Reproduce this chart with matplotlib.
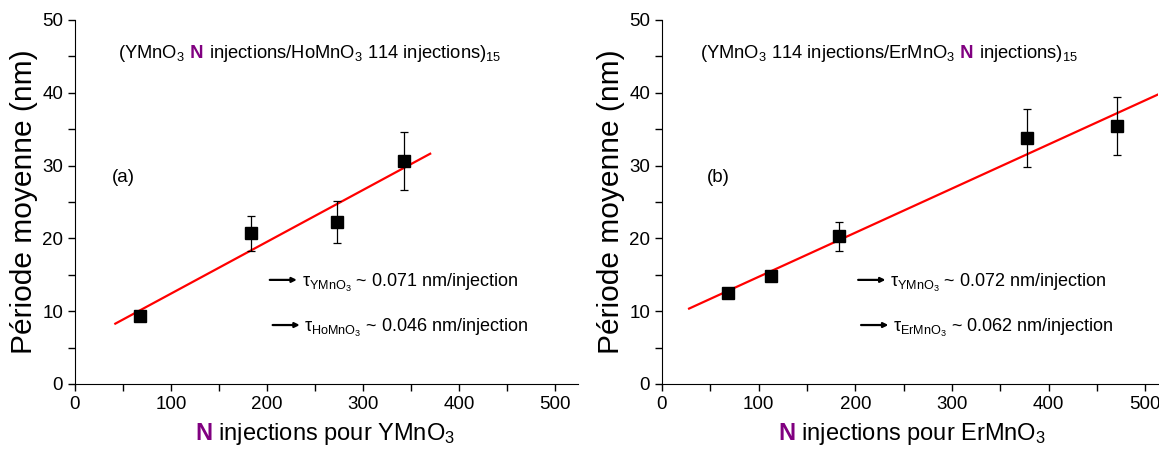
import matplotlib
matplotlib.use("Agg")
import matplotlib.pyplot as plt
import matplotlib.transforms as mtransforms
import numpy as np

plt.rcParams["font.family"] = ["Liberation Sans", "DejaVu Sans"]
plt.rcParams["mathtext.fontset"] = "custom"
plt.rcParams["mathtext.rm"] = "Liberation Sans"
plt.rcParams["mathtext.it"] = "Liberation Sans:italic"
plt.rcParams["mathtext.bf"] = "Liberation Sans:bold"
plt.rcParams["mathtext.default"] = "regular"

# panel (a): YMnO3 N injections / HoMnO3 114 injections
n_a = [68, 183, 273, 343]
period_a = [9.4, 20.7, 22.2, 30.6]
err_a = [0.6, 2.4, 2.9, 4.0]
fit_range_a = [42, 370]

# panel (b): YMnO3 114 injections / ErMnO3 N injections
n_b = [68, 113, 183, 377, 471]
period_b = [12.5, 14.8, 20.3, 33.8, 35.4]
err_b = [0.5, 0.5, 2.0, 4.0, 4.0]
fit_range_b = [28, 515]

purple = "#800080"

fig = plt.figure(figsize=(11.59, 4.55), dpi=100)
ax_a = fig.add_axes([75 / 1159, 71 / 455, 503 / 1159, 364 / 455])
ax_b = fig.add_axes([662 / 1159, 71 / 455, 496 / 1159, 364 / 455])
renderer = fig.canvas.get_renderer()


def parts_text(ax, x, y, parts, transform, size):
    # draw text pieces one after another on the same baseline
    t = None
    for s, color, weight in parts:
        t = ax.text(x, y, s, color=color, fontweight=weight, fontsize=size,
                    transform=transform, va="baseline", ha="left", clip_on=False)
        ex = t.get_window_extent(renderer)
        transform = mtransforms.offset_copy(t.get_transform(), fig=fig, x=ex.width, units="dots")
    return t


def setup(ax, xmax, xlabel_parts, xl_start):
    ax.set_xlim(0, xmax)
    ax.set_ylim(0, 50)
    ax.spines["top"].set_visible(False)
    ax.spines["right"].set_visible(False)
    ax.set_xticks(range(0, 501, 100))
    ax.set_xticks(range(50, 501, 100), minor=True)
    ax.set_yticks(range(0, 51, 10))
    ax.set_yticks(range(5, 50, 10), minor=True)
    ax.tick_params(which="both", direction="out", length=5, width=1, labelsize=13.5)
    ax.set_ylabel("Période moyenne (nm)", fontsize=21.5, labelpad=3)
    parts_text(ax, xl_start, -0.155, xlabel_parts, ax.transAxes, 17)


def panel(ax, n, period, err, fit_range):
    slope, intercept = np.polyfit(n, period, 1)
    xs = np.array(fit_range)
    ax.plot(xs, slope * xs + intercept, color="red", lw=1.6, zorder=2)
    ax.errorbar(n, period, yerr=err, fmt="s", color="black", ms=8.5,
                ecolor="black", elinewidth=0.9, capsize=3, capthick=0.9, zorder=3)


setup(ax_a, 524, [("N", purple, "bold"), (" injections pour YMnO$_3$", "black", "normal")], 0.239)
setup(ax_b, 513, [("N", purple, "bold"), (" injections pour ErMnO$_3$", "black", "normal")], 0.234)

panel(ax_a, n_a, period_a, err_a, fit_range_a)
panel(ax_b, n_b, period_b, err_b, fit_range_b)

# header annotations
parts_text(ax_a, 45, 44.8, [("(YMnO$_3$", "black", "normal"), (" N", purple, "bold"),
                            (" injections/HoMnO$_3$ 114 injections)$_{15}$", "black", "normal")],
           ax_a.transData, 13.2)
parts_text(ax_b, 39, 44.8, [("(YMnO$_3$ 114 injections/ErMnO$_3$", "black", "normal"), (" N", purple, "bold"),
                            (" injections)$_{15}$", "black", "normal")],
           ax_b.transData, 13.2)

ax_a.text(38, 28.3, "(a)", fontsize=13.5, va="center")
ax_b.text(46, 28.3, "(b)", fontsize=13.5, va="center")

# rate arrows
for ax, lab1, lab2 in [(ax_a, r"$\tau_{YMnO_3}$ ~ 0.071 nm/injection", r"$\tau_{HoMnO_3}$ ~ 0.046 nm/injection"),
                       (ax_b, r"$\tau_{YMnO_3}$ ~ 0.072 nm/injection", r"$\tau_{ErMnO_3}$ ~ 0.062 nm/injection")]:
    for y, lab, x0 in [(14.3, lab1, 200), (8.1, lab2, 203)]:
        ax.annotate("", xy=(x0 + 34, y), xytext=(x0, y),
                    arrowprops=dict(arrowstyle="-|>", color="black", lw=1.6, mutation_scale=7))
        ax.text(x0 + 36, y - 1.0, lab, fontsize=13, va="baseline")

fig.savefig("out.png", dpi=100)
